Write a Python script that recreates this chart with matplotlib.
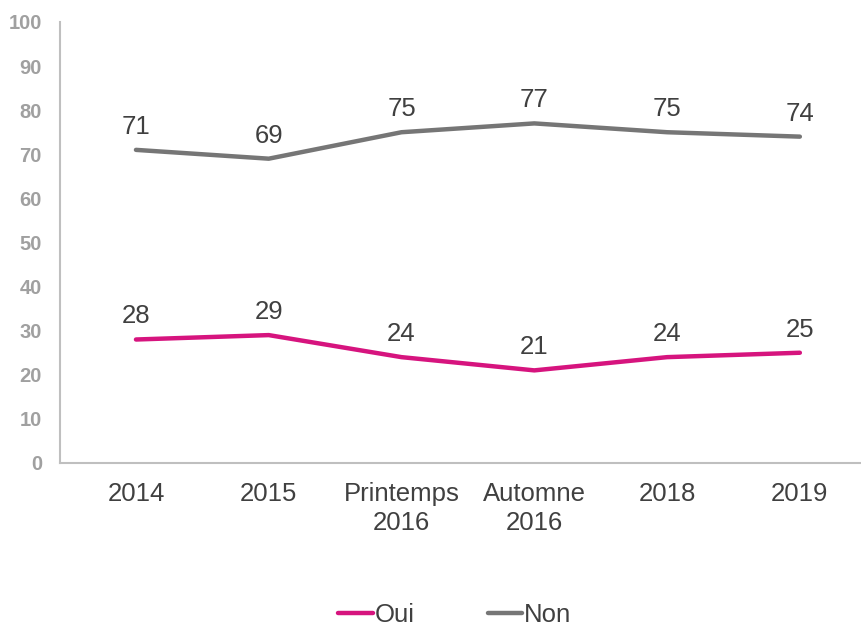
import matplotlib
matplotlib.use("Agg")
import matplotlib.pyplot as plt

plt.rcParams['font.family'] = ['Liberation Sans', 'DejaVu Sans']

# Survey results by wave
periods = ["2014", "2015", "Printemps\n2016", "Automne\n2016", "2018", "2019"]
oui = [28, 29, 24, 21, 24, 25]
non = [71, 69, 75, 77, 75, 74]

fig = plt.figure(figsize=(8.61, 6.26), dpi=100)
ax = fig.add_axes([0.0697, 0.2604, 0.929, 0.7045])

x = range(len(periods))
ax.plot(x, oui, color="#d6147e", lw=3.2, label="Oui", solid_capstyle="round")
ax.plot(x, non, color="#767676", lw=3.2, label="Non", solid_capstyle="round")

for i, v in enumerate(oui):
    ax.annotate(str(v), (i, v), xytext=(0, 8), textcoords="offset points",
                ha="center", va="bottom", fontsize=18.5, color="#404040")
for i, v in enumerate(non):
    ax.annotate(str(v), (i, v), xytext=(0, 8), textcoords="offset points",
                ha="center", va="bottom", fontsize=18.5, color="#404040")

ax.set_xlim(-0.572, 5.452)
ax.set_ylim(0, 100)
ax.set_yticks(range(0, 101, 10))
ax.set_xticks(list(x))
ax.set_xticklabels(periods, fontsize=18.5, color="#404040", linespacing=1.25)
for lab in ax.get_yticklabels():
    lab.set_fontsize(14.5)
    lab.set_fontweight("bold")
    lab.set_color("#a0a0a0")
ax.tick_params(axis="both", length=0)
ax.tick_params(axis="y", pad=13)
ax.tick_params(axis="x", pad=14)

for s in ["top", "right"]:
    ax.spines[s].set_visible(False)
for s in ["left", "bottom"]:
    ax.spines[s].set_color("#bfbfbf")
    ax.spines[s].set_linewidth(1.5)

fig.legend(loc="lower center", bbox_to_anchor=(0.528, -0.038), ncol=2, frameon=False,
           fontsize=18.5, handlelength=1.35, handletextpad=0.05, columnspacing=2.85,
           labelcolor="#404040")

fig.savefig("out.png", dpi=100)
